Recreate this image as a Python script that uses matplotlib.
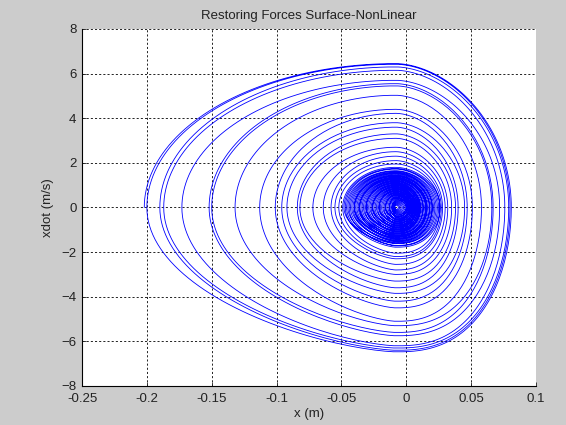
import numpy as np
import matplotlib
matplotlib.use("Agg")
import matplotlib.pyplot as plt

plt.rcParams['font.family'] = ['Liberation Sans', 'DejaVu Sans']

# Per-cycle extremes: left turning point (x at v=0),
# peak velocity, right turning point, minimum velocity.
outer_xl = [-0.202, -0.200, -0.190, -0.187, -0.173, -0.152, -0.150, -0.132, -0.113, -0.101,
            -0.096, -0.092, -0.084, -0.082, -0.072, -0.064, -0.058, -0.055, -0.052]
outer_vt = [6.45, 6.42, 6.30, 6.15, 5.70, 5.55, 5.45, 5.03, 4.40, 4.22,
            3.80, 3.60, 3.30, 3.10, 2.70, 2.50, 2.30, 2.10, 1.95]
outer_xr = [0.081, 0.080, 0.079, 0.076, 0.072, 0.067, 0.066, 0.058, 0.051, 0.047,
            0.045, 0.040, 0.038, 0.035, 0.032, 0.030, 0.028, 0.027, 0.026]
outer_vb = [-6.47, -6.40, -6.30, -6.20, -5.75, -5.60, -5.30, -5.10, -4.50, -4.20,
            -3.85, -3.60, -3.30, -3.00, -2.80, -2.55, -2.30, -2.20, -2.05]

core_xl = [-0.049, -0.047, -0.046, -0.048, -0.044, -0.045, -0.043, -0.041, -0.042, -0.040,
           -0.039, -0.038, -0.040, -0.036, -0.037, -0.035, -0.034, -0.036, -0.032, -0.033,
           -0.031, -0.030, -0.029, -0.031, -0.027, -0.028, -0.026, -0.025, -0.024, -0.026,
           -0.022, -0.023, -0.021, -0.020, -0.019, -0.021, -0.017, -0.018, -0.016, -0.015,
           -0.014, -0.016, -0.013, -0.012, -0.011, -0.013, -0.010, -0.009, -0.011, -0.010,
           -0.009, -0.0095, -0.0088]
core_vt = [1.80, 1.72, 1.65, 1.75, 1.58, 1.62, 1.55, 1.48, 1.52, 1.44,
           1.40, 1.36, 1.42, 1.30, 1.33, 1.26, 1.22, 1.28, 1.16, 1.19,
           1.12, 1.08, 1.04, 1.10, 0.98, 1.01, 0.94, 0.90, 0.86, 0.92,
           0.80, 0.83, 0.76, 0.72, 0.68, 0.74, 0.62, 0.65, 0.58, 0.54,
           0.50, 0.56, 0.46, 0.42, 0.38, 0.44, 0.34, 0.30, 0.26, 0.22,
           0.18, 0.14, 0.10]
core_xr = [0.026, 0.024, 0.023, 0.025, 0.021, 0.022, 0.020, 0.019, 0.020, 0.018,
           0.017, 0.016, 0.018, 0.015, 0.016, 0.014, 0.013, 0.015, 0.012, 0.013,
           0.011, 0.010, 0.010, 0.011, 0.009, 0.009, 0.008, 0.007, 0.007, 0.008,
           0.006, 0.006, 0.005, 0.005, 0.004, 0.005, 0.003, 0.004, 0.003, 0.002,
           0.002, 0.003, 0.001, 0.001, 0.000, 0.001, 0.000, -0.001, -0.002, -0.003,
           -0.004, -0.005, -0.006]
core_vb = [-1.78, -1.70, -1.62, -1.72, -1.56, -1.60, -1.52, -1.46, -1.50, -1.42,
           -1.38, -1.34, -1.40, -1.28, -1.31, -1.24, -1.20, -1.26, -1.14, -1.17,
           -1.10, -1.06, -1.02, -1.08, -0.96, -0.99, -0.92, -0.88, -0.84, -0.90,
           -0.78, -0.81, -0.74, -0.70, -0.66, -0.72, -0.60, -0.63, -0.56, -0.52,
           -0.48, -0.54, -0.44, -0.40, -0.36, -0.42, -0.32, -0.28, -0.24, -0.20,
           -0.16, -0.12, -0.08]

x_eq = -0.008  # position where velocity peaks

xticks = [-0.25, -0.2, -0.15, -0.1, -0.05, 0, 0.05, 0.1]
xticklabels = ['-0.25', '-0.2', '-0.15', '-0.1', '-0.05', '0', '0.05', '0.1']
yticks = [-8, -6, -4, -2, 0, 2, 4, 6, 8]

xl = outer_xl + core_xl
vt = outer_vt + core_vt
xr = outer_xr + core_xr
vb = outer_vb + core_vb

# shape exponents of the four quarter arcs
p_tl, p_tr, p_br, p_bl = 2.0, 1.8, 2.5, 1.5
n = 50
t = np.linspace(0, np.pi / 2, n)


def quarter(X, V, p, rev):
    c = np.cos(t) ** (2.0 / p)
    s = np.sin(t)
    xs = x_eq + (X - x_eq) * c
    vs = V * s
    if rev:
        return xs[::-1], vs[::-1]
    return xs, vs


XS, VS = [], []
for i in range(len(xl)):
    a = quarter(xl[i], vt[i], p_tl, False)   # left -> top
    b = quarter(xr[i], vt[i], p_tr, True)    # top -> right
    c = quarter(xr[i], vb[i], p_br, False)   # right -> bottom
    nxt = xl[i + 1] if i + 1 < len(xl) else xl[i]
    d = quarter(nxt, vb[i], p_bl, True)      # bottom -> next left
    for seg in (a, b, c, d):
        XS.append(seg[0])
        VS.append(seg[1])
XS = np.concatenate(XS)
VS = np.concatenate(VS)

fig = plt.figure(figsize=(5.66, 4.25), dpi=100, facecolor='#cccccc')
ax = fig.add_axes([0.1449, 0.0918, 0.802, 0.840])
ax.set_facecolor('white')
ax.plot(XS, VS, color=(0, 0, 1), lw=0.6)

ax.set_xlim(-0.25, 0.1)
ax.set_ylim(-8, 8)
ax.set_xticks(xticks)
ax.set_xticklabels(xticklabels)
ax.set_yticks(yticks)
ax.grid(True, color='black', linestyle=(0, (2.5, 2.5)), lw=0.6)
ax.tick_params(direction='in', length=3, width=0.6, labelsize=9.5, colors='#222222')
ax.tick_params(axis='x', pad=5)
ax.tick_params(axis='y', pad=4)
for side in ('top', 'right'):
    ax.spines[side].set_visible(False)
for side in ('left', 'bottom'):
    ax.spines[side].set_linewidth(0.8)
ax.set_title('Restoring Forces Surface-NonLinear', fontsize=9.5, pad=7, color='#222222')
ax.set_xlabel('x (m)', fontsize=9.5, labelpad=2, color='#222222')
ax.set_ylabel('xdot (m/s)', fontsize=9.5, labelpad=5, color='#222222')

fig.savefig('out.png', dpi=100, facecolor=fig.get_facecolor())
